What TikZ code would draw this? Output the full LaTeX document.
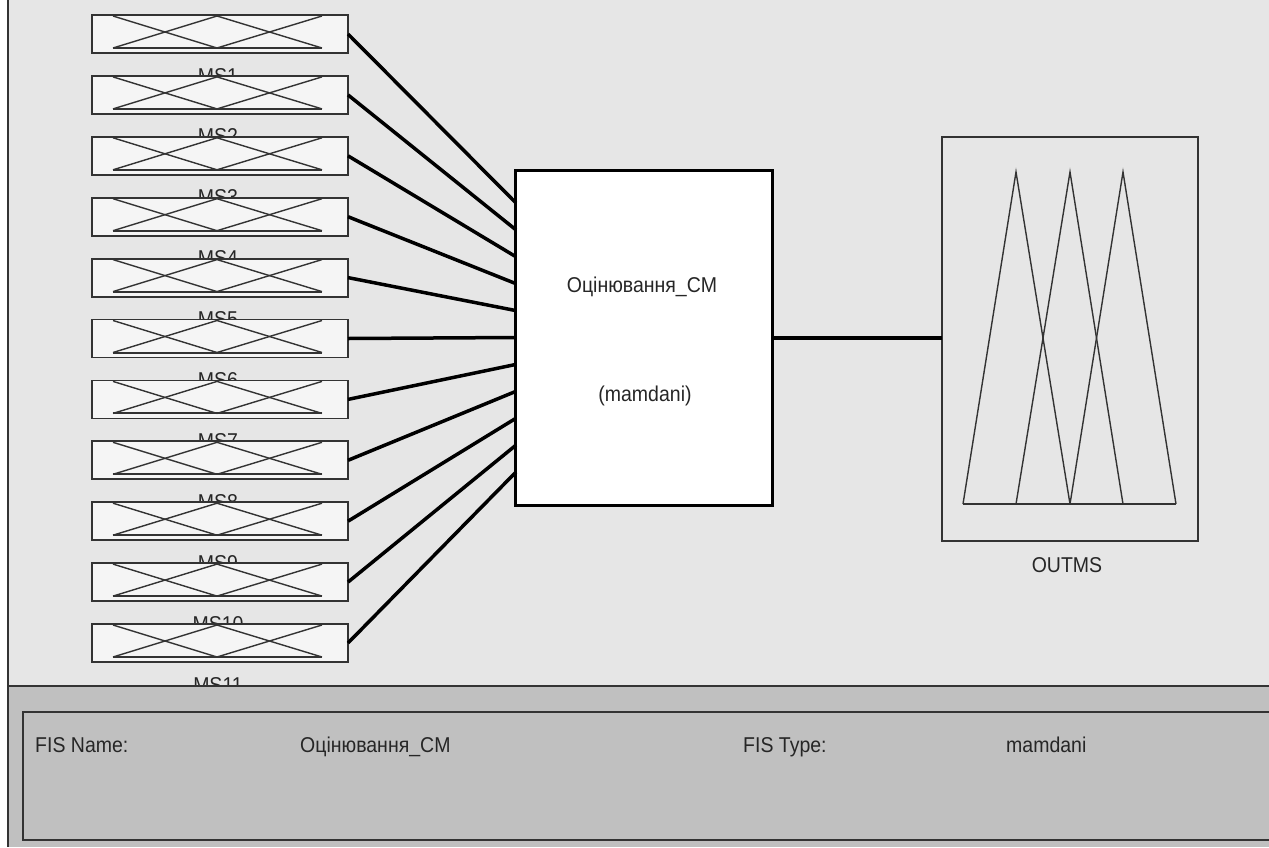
\documentclass[tikz,border=0pt]{standalone}
\usepackage{fontspec}
\setmainfont{Liberation Sans}
\usetikzlibrary{calc}
\definecolor{bg}{HTML}{E6E6E6}
\definecolor{panel}{HTML}{C0C0C0}
\definecolor{boxfill}{HTML}{F5F5F5}
\definecolor{edge}{HTML}{333333}
\definecolor{txt}{HTML}{262626}
\newcommand{\tall}[1]{\scalebox{1}[1.1]{#1}}
\tikzset{
  msbox/.style={draw=edge, line width=1.8pt, fill=boxfill, minimum width=256pt, minimum height=38pt, inner sep=0pt, outer sep=0pt},
  lbl/.style={font=\fontsize{19.5}{19.5}\selectfont, text=txt, inner sep=0pt},
  wire/.style={line width=3.5pt, draw=black},
  mf/.style={line width=1.4pt, draw=edge},
  frame/.style={draw=edge, line width=1.8pt}
}
\begin{document}
\begin{tikzpicture}[x=1pt,y=-1pt]
\useasboundingbox (0,0) rectangle (1269,847);
\fill[white] (0,0) rectangle (1269,847);
\fill[bg] (8,0) rectangle (1269,686);
% input labels (drawn first, partly hidden by the boxes below)
\foreach \i in {1,...,11}{
  \pgfmathsetmacro{\yc}{34+60.9*(\i-1)}
  \node[lbl, anchor=base] (lab\i) at (218,{\yc+49}) {\tall{MS\i}};
}
% input boxes
\foreach \i in {1,...,11}{
  \pgfmathsetmacro{\yc}{34+60.9*(\i-1)}
  \node[msbox] (ms\i) at (220,\yc) {};
  \draw[mf] (113,{\yc-18}) -- (217,{\yc+14});
  \draw[mf] (113,{\yc+14}) -- (217,{\yc-18}) -- (322,{\yc+14});
  \draw[mf] (217,{\yc+14}) -- (322,{\yc-18});
  \draw[mf, line width=2pt] (113,{\yc+14}) -- (322,{\yc+14});
}
% central FIS box
\node[draw=black, line width=3.2pt, fill=white, minimum width=257pt, minimum height=335pt, inner sep=0pt, outer sep=0pt] (fis) at (644,338) {};
\node[lbl, anchor=base] (fisname) at (642,292) {\tall{Оцінювання\_CM}};
\node[lbl, anchor=base] (fistype) at (645,401) {\tall{(mamdani)}};
% wires
\foreach \i in {1,...,11}{
  \coordinate (t\i) at (516,{203+26.9*(\i-1)});
  \draw[wire] (ms\i.east) -- (t\i);
}
% output box
\node[frame, minimum width=256pt, minimum height=404pt, inner sep=0pt, outer sep=0pt] (out) at (1070,339) {};
\draw[wire] (fis.east) -- (out.west |- fis.east);
\draw[mf] (963,504) -- (1016,172) -- (1070,504);
\draw[mf] (1016,504) -- (1070,172) -- (1123,504);
\draw[mf] (1070,504) -- (1123,172) -- (1176,504);
\draw[mf] (963,504) -- (1176,504);
\node[lbl, anchor=base] (outlab) at (1067,572) {\tall{OUTMS}};
% bottom panel
\fill[panel] (8,686) rectangle (1269,847);
\draw[frame] (8,686) -- (1269,686);
\draw[edge, line width=1.8pt] (8,0) -- (8,847);
\draw[frame] (1270,712) -- (23,712) -- (23,840) -- (1270,840);
\node[lbl, anchor=base west] (fn) at (35,752) {\tall{FIS Name:}};
\node[lbl, anchor=base west] (fnv) at (300,752) {\tall{Оцінювання\_CM}};
\node[lbl, anchor=base west] (ft) at (743,752) {\tall{FIS Type:}};
\node[lbl, anchor=base west] (ftv) at (1006,752) {\tall{mamdani}};
\end{tikzpicture}
\end{document}
